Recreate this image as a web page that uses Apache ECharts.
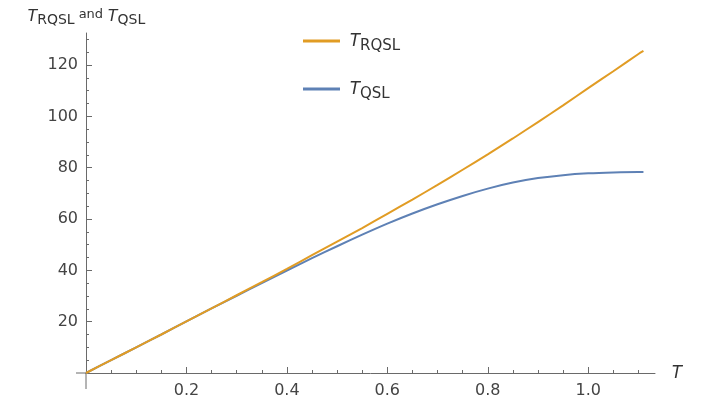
<!DOCTYPE html>
<html><head><meta charset="utf-8">
<script src="https://cdn.jsdelivr.net/npm/echarts@6/dist/echarts.min.js"></script>
<style>html,body{margin:0;padding:0;background:#fff}#c{width:716px;height:410px}</style>
</head><body><div id="c"></div>
<script>
// Data
const tValues = [0, 0.05, 0.1, 0.15, 0.2, 0.25, 0.3, 0.35, 0.4, 0.45, 0.5, 0.55, 0.6, 0.65, 0.7, 0.75, 0.8, 0.85, 0.9, 0.95, 1.0, 1.05, 1.1, 1.11];
const tRQSL = [0, 5.0, 10.0, 15.0, 20.1, 25.2, 30.3, 35.4, 40.6, 45.9, 51.2, 56.5, 62.0, 67.6, 73.3, 79.2, 85.2, 91.4, 97.8, 104.3, 111.0, 117.6, 124.3, 125.5];
const tQSL  = [0, 5.0, 10.0, 15.0, 20.1, 25.15, 30.1, 35.05, 39.95, 44.75, 49.4, 53.9, 58.2, 62.15, 65.75, 69.0, 71.85, 74.2, 75.95, 77.1, 77.8, 78.15, 78.3, 78.3];
const xMajorTicks = [0.2, 0.4, 0.6, 0.8, 1.0];
const xMinorTicks = [0.05, 0.1, 0.15, 0.25, 0.3, 0.35, 0.45, 0.5, 0.55, 0.65, 0.7, 0.75, 0.85, 0.9, 0.95, 1.05, 1.1];
const yMajorTicks = [20, 40, 60, 80, 100, 120];
const yMinorTicks = [5, 10, 15, 25, 30, 35, 45, 50, 55, 65, 70, 75, 85, 90, 95, 105, 110, 115, 125, 130];
const seriesNames = ['RQSL', 'QSL'];

const axisColor = '#6a6a6a';
const labelColor = '#444';
const font = 'DejaVu Sans';

const chart = echarts.init(document.getElementById('c'), null, {renderer: 'canvas'});
const pairs = (ys) => tValues.map((x, i) => [x, ys[i]]);

const subRich = {
  t: {fontStyle: 'italic', fontSize: 17, fontFamily: 'Liberation Sans', color: '#333'},
  s: {fontSize: 14, fontFamily: font, color: '#333', padding: [8, 0, 0, 0]},
  a: {fontSize: 13, fontFamily: font, color: '#333', padding: [0, 4, 3, 4]}
};

chart.setOption({
  animation: false,
  backgroundColor: '#fff',
  grid: {left: 86, top: 33, width: 569, height: 340, containLabel: false},
  legend: {
    orient: 'vertical', left: 298, top: 27, itemWidth: 37, itemHeight: 3, itemGap: 26,
    icon: 'rect', data: seriesNames,
    formatter: n => '{t|T}{s|' + n + '}',
    textStyle: {
      padding: [0, 0, 0, 4],
      rich: {
        t: {fontStyle: 'italic', fontSize: 18, fontFamily: 'Liberation Sans', color: '#333'},
        s: {fontSize: 15, fontFamily: font, color: '#333', padding: [11, 0, 0, 0]}
      }
    }
  },
  xAxis: [{
    type: 'value', min: 0, max: 1.133, position: 'bottom',
    axisLine: {onZero: false, lineStyle: {color: axisColor, width: 1}},
    axisTick: {show: true, inside: true, length: 6, customValues: xMajorTicks, lineStyle: {color: axisColor}},
    axisLabel: {customValues: xMajorTicks, formatter: v => v.toFixed(1), margin: 10, color: labelColor, fontSize: 16, fontFamily: font},
    splitLine: {show: false},
    name: 'T', nameLocation: 'end', nameGap: 16,
    nameTextStyle: {fontStyle: 'italic', fontSize: 18, fontFamily: 'Liberation Sans', color: '#333', verticalAlign: 'middle'}
  }, {
    type: 'value', min: 0, max: 1.133, position: 'bottom',
    axisLine: {show: false},
    axisTick: {show: true, inside: true, length: 3, customValues: xMinorTicks, lineStyle: {color: axisColor}},
    axisLabel: {show: false}, splitLine: {show: false}
  }],
  yAxis: [{
    type: 'value', min: 0, max: 132.5, position: 'left',
    axisLine: {show: true, onZero: false, lineStyle: {color: axisColor, width: 1}},
    axisTick: {show: true, inside: true, length: 6, customValues: yMajorTicks, lineStyle: {color: axisColor}},
    axisLabel: {customValues: yMajorTicks, margin: 8, color: labelColor, fontSize: 16, fontFamily: font},
    splitLine: {show: false},
    name: '{t|T}{s|RQSL}{a|and}{t|T}{s|QSL}', nameLocation: 'end', nameGap: 6,
    nameTextStyle: {rich: subRich}
  }, {
    type: 'value', min: 0, max: 132.5, position: 'left',
    axisLine: {show: false},
    axisTick: {show: true, inside: true, length: 3, customValues: yMinorTicks, lineStyle: {color: axisColor}},
    axisLabel: {show: false}, splitLine: {show: false}
  }],
  series: [{
    name: 'QSL', type: 'line', xAxisIndex: 0, yAxisIndex: 0, showSymbol: false, smooth: 0.3,
    data: pairs(tQSL), lineStyle: {color: '#5E81B5', width: 2}, itemStyle: {color: '#5E81B5'}, z: 2
  }, {
    name: 'RQSL', type: 'line', xAxisIndex: 0, yAxisIndex: 0, showSymbol: false, smooth: 0.3,
    data: pairs(tRQSL), lineStyle: {color: '#E19C24', width: 2}, itemStyle: {color: '#E19C24'}, z: 3
  }]
});

// Mathematica-style axis stubs crossing past the origin
const o = chart.convertToPixel({gridIndex: 0}, [0, 0]);
chart.setOption({
  graphic: [
    {type: 'line', shape: {x1: o[0] - 10, y1: o[1], x2: o[0], y2: o[1]}, style: {stroke: axisColor, lineWidth: 1}},
    {type: 'line', shape: {x1: o[0], y1: o[1], x2: o[0], y2: o[1] + 16}, style: {stroke: axisColor, lineWidth: 1}}
  ]
});
</script></body></html>
